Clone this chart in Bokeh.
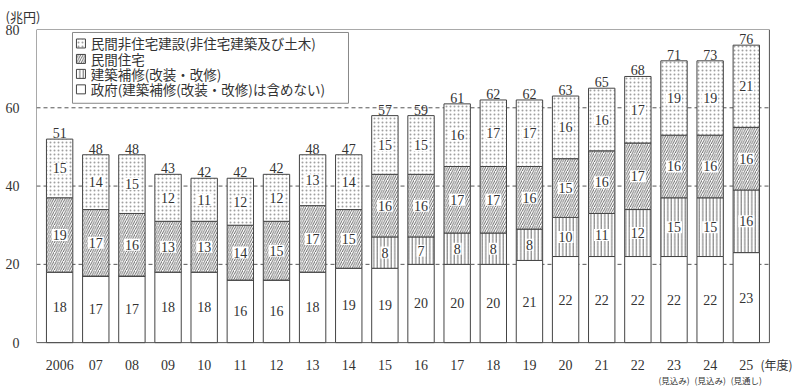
from bokeh.plotting import figure
from bokeh.models import ColumnDataSource, Range1d, FixedTicker, BoxAnnotation, Title
from bokeh.core.properties import value
from bokeh.embed import file_html
from bokeh.resources import INLINE

# ---- data ----
years = ["2006", "07", "08", "09", "10", "11", "12", "13", "14", "15",
         "16", "17", "18", "19", "20", "21", "22", "23", "24", "25"]
sub_labels = ["", "", "", "", "", "", "", "", "", "",
              "", "", "", "", "", "", "", "(見込み)", "(見込み)", "(見通し)"]
gov = [18, 17, 17, 18, 18, 16, 16, 18, 19, 19, 20, 20, 20, 21, 22, 22, 22, 22, 22, 23]
repair = [0, 0, 0, 0, 0, 0, 0, 0, 0, 8, 7, 8, 8, 8, 10, 11, 12, 15, 15, 16]
housing = [19, 17, 16, 13, 13, 14, 15, 17, 15, 16, 16, 17, 17, 16, 15, 16, 17, 16, 16, 16]
nonres = [15, 14, 15, 12, 11, 12, 12, 13, 14, 15, 15, 16, 17, 17, 16, 16, 17, 19, 19, 21]
totals = [51, 48, 48, 43, 42, 42, 42, 48, 47, 57, 59, 61, 62, 62, 63, 65, 68, 71, 73, 76]
series_names = ["民間非住宅建設(非住宅建築及び土木)", "民間住宅",
                "建築補修(改装・改修)", "政府(建築補修(改装・改修)は含めない)"]
y_ticks = [0, 20, 40, 60, 80]
unit_label = "(兆円)"
year_unit = "(年度)"

SERIF = "Liberation Serif"
JP = "Noto Sans CJK JP"
TXT = "#333333"

# plotting-area geometry (axes box spans XA..XB, 0..YMAX; frame extends below/right for labels)
XA, XB = -0.64, 19.64
YMAX = 80
X_END = 20.5
Y_BOTTOM = -11.72

# legend layout (data-space placement inside the axes box)
LEG_LEFT, LEG_RIGHT, LEG_TOP, LEG_BOTTOM = 0.356, 7.993, 79.24, 61.15
LEG_ROWS = [76.43, 72.48, 68.66, 64.71]
LEG_GLYPH_X, LEG_TEXT_X = 0.59, 0.86

x = list(range(len(years)))
b1 = gov
t1 = [g + r for g, r in zip(gov, repair)]
t2 = [a + h for a, h in zip(t1, housing)]
t3 = [a + n for a, n in zip(t2, nonres)]

p = figure(width=800, height=388, output_backend="svg", toolbar_location=None,
           x_range=Range1d(XA, X_END), y_range=Range1d(Y_BOTTOM, YMAX),
           min_border_left=36, min_border_right=0, min_border_top=28, min_border_bottom=0)
p.background_fill_color = "white"
p.border_fill_color = "white"
p.outline_line_color = None
p.xaxis.visible = False
p.xgrid.visible = False
p.ygrid.visible = False

# dashed grid lines inside the axes box
grid_vals = y_ticks[1:-1]
p.segment(x0=[XA] * len(grid_vals), x1=[XB] * len(grid_vals), y0=grid_vals, y1=grid_vals,
          line_color="#555555", line_dash="4 3", line_width=1)

base = dict(line_color="#444444", line_width=1, fill_color="white")
st_gov = dict(base)
st_rep = dict(base, hatch_pattern="vertical_line", hatch_color="#444444", hatch_scale=3.5, hatch_weight=0.8)
st_hou = dict(base, hatch_pattern="right_diagonal_line", hatch_color="#444444", hatch_scale=4.5, hatch_weight=0.8)
st_non = dict(base, hatch_pattern="dot", hatch_color="#a0a0a0", hatch_scale=4, hatch_weight=0.8)

W = 0.73
p.vbar(x=x, bottom=0, top=gov, width=W, **st_gov)
p.vbar(x=x, bottom=b1, top=t1, width=W, **st_rep)
p.vbar(x=x, bottom=t1, top=t2, width=W, **st_hou)
p.vbar(x=x, bottom=t2, top=t3, width=W, **st_non)

# axes box
p.add_layout(BoxAnnotation(left=XA, right=XB, bottom=0, top=YMAX, fill_alpha=0,
                           line_color="#555555", line_alpha=1, line_width=1))

# segment labels
lx, ly, lt = [], [], []
for i in x:
    segs = [(0, gov[i], gov[i]), (b1[i], t1[i], repair[i]), (t1[i], t2[i], housing[i]), (t2[i], t3[i], nonres[i])]
    for lo, hi, v in segs:
        if v > 0:
            lx.append(i)
            ly.append((lo + hi) / 2)
            lt.append(str(v))
seg_src = ColumnDataSource(dict(x=lx, y=ly, t=lt))
p.text(x="x", y="y", text="t", source=seg_src, text_align="center", text_baseline="middle",
       text_font=value(SERIF), text_font_size="14px", text_color=TXT,
       background_fill_color="white", padding=1)

tot_src = ColumnDataSource(dict(x=x, y=t3, t=[str(v) for v in totals]))
p.text(x="x", y="y", text="t", source=tot_src, text_align="center", text_baseline="bottom",
       y_offset=-1, text_font=value(SERIF), text_font_size="14px", text_color=TXT)

# category labels under the axis
yr_src = ColumnDataSource(dict(x=x, y=[-5.6] * len(x), t=years))
p.text(x="x", y="y", text="t", source=yr_src, text_align="center", text_baseline="middle",
       text_font=value(SERIF), text_font_size="14px", text_color=TXT)
sx = [i for i, s in enumerate(sub_labels) if s]
sub_src = ColumnDataSource(dict(x=sx, y=[-9.5] * len(sx), t=[sub_labels[i] for i in sx]))
p.text(x="x", y="y", text="t", source=sub_src, text_align="center", text_baseline="middle",
       text_font=value(JP), text_font_size="8.5px", text_color=TXT)
p.text(x=[19.39], y=[-5.6], text=[year_unit], text_align="left", text_baseline="middle",
       text_font=value(JP), text_font_size="12px", text_color=TXT)

# y axis
p.yaxis.ticker = FixedTicker(ticks=y_ticks)
p.yaxis.major_tick_line_color = None
p.yaxis.minor_tick_line_color = None
p.yaxis.axis_line_color = None
p.yaxis.major_label_text_font = SERIF
p.yaxis.major_label_text_font_size = "14px"
p.yaxis.major_label_text_color = TXT
p.yaxis.major_label_standoff = 11

# unit label top-left
p.add_layout(Title(text=unit_label, align="left", offset=-31, standoff=8,
                   text_font=JP, text_font_size="13px", text_font_style="normal",
                   text_color=TXT), "above")

# legend (drawn inside the axes box)
p.add_layout(BoxAnnotation(left=LEG_LEFT, right=LEG_RIGHT, bottom=LEG_BOTTOM, top=LEG_TOP,
                           fill_alpha=0, line_color="#888888", line_alpha=1, line_width=1))
for yy, st in zip(LEG_ROWS, [st_non, st_hou, st_rep, st_gov]):
    p.rect(x=[LEG_GLYPH_X], y=[yy], width=9, height=9, width_units="screen",
           height_units="screen", **st)
p.text(x=[LEG_TEXT_X] * 4, y=LEG_ROWS, text=series_names, text_align="left",
       text_baseline="middle", text_font=value(JP), text_font_size="13.5px", text_color=TXT)

open("out.html", "w").write(file_html(p, INLINE))
